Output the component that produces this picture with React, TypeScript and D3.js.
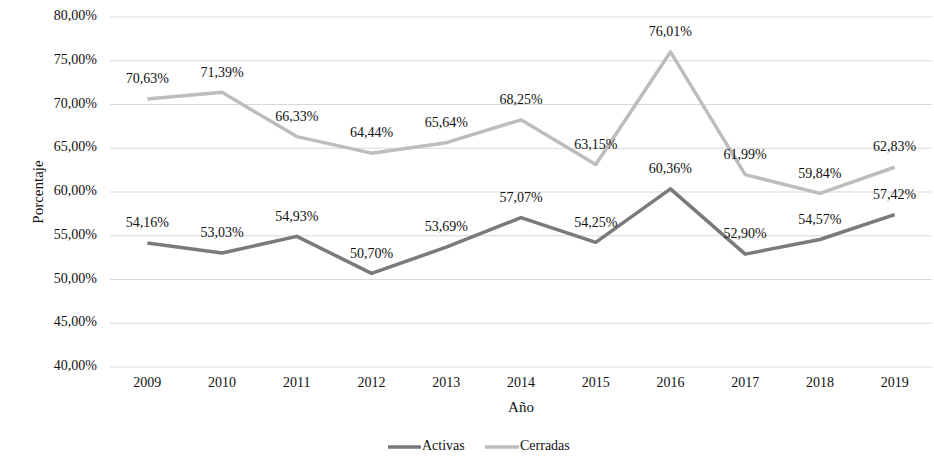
import React from 'react';
import * as d3 from 'd3';

const years = ['2009', '2010', '2011', '2012', '2013', '2014', '2015', '2016', '2017', '2018', '2019'];
const activas = [54.16, 53.03, 54.93, 50.70, 53.69, 57.07, 54.25, 60.36, 52.90, 54.57, 57.42];
const cerradas = [70.63, 71.39, 66.33, 64.44, 65.64, 68.25, 63.15, 76.01, 61.99, 59.84, 62.83];
const yTicks = [40, 45, 50, 55, 60, 65, 70, 75, 80];

const WIDTH = 934;
const HEIGHT = 460;
const FONT = "'Liberation Serif', 'Times New Roman', serif";

const series = [
  { name: 'Activas', values: activas, color: '#7a7a7a' },
  { name: 'Cerradas', values: cerradas, color: '#bdbdbd' },
];

const fmt = (v: number) => v.toFixed(2).replace('.', ',') + '%';

const App: React.FC = () => {
  const x = d3.scaleBand<string>().domain(years).range([110, 932]);
  const y = d3.scaleLinear().domain([40, 80]).range([367, 17]);
  const cx = (yr: string) => (x(yr) || 0) + x.bandwidth() / 2;

  const line = d3
    .line<number>()
    .x((_, i) => cx(years[i]))
    .y(d => y(d));

  return (
    <svg
      width={WIDTH}
      height={HEIGHT}
      style={{ position: 'absolute', left: 0, top: 0, background: '#fff', fontFamily: FONT }}
    >
      {/* grid + y ticks */}
      {yTicks.map(t => (
        <g key={t}>
          <line x1={110} x2={932} y1={y(t)} y2={y(t)} stroke="#d9d9d9" strokeWidth={1} />
          <text x={97} y={y(t)} textAnchor="end" dominantBaseline="middle" fontSize={14} fill="#111">
            {fmt(t)}
          </text>
        </g>
      ))}

      {/* x tick labels */}
      {years.map(yr => (
        <text key={yr} x={cx(yr)} y={384} textAnchor="middle" dominantBaseline="middle" fontSize={14} fill="#111">
          {yr}
        </text>
      ))}

      {/* axis titles */}
      <text
        transform={`translate(40, ${(y(40) + y(80)) / 2}) rotate(-90)`}
        textAnchor="middle"
        dominantBaseline="middle"
        fontSize={15}
        fill="#111"
      >
        Porcentaje
      </text>
      <text x={521} y={409} textAnchor="middle" dominantBaseline="middle" fontSize={15} fill="#111">
        Año
      </text>

      {/* lines */}
      {series.map(s => (
        <path
          key={s.name}
          d={line(s.values) || ''}
          fill="none"
          stroke={s.color}
          strokeWidth={3.5}
          strokeLinejoin="round"
        />
      ))}

      {/* data labels */}
      {series.map(s =>
        s.values.map((v, i) => (
          <text
            key={s.name + i}
            x={cx(years[i])}
            y={y(v) - 19}
            textAnchor="middle"
            dominantBaseline="middle"
            fontSize={14}
            fill="#111"
          >
            {fmt(v)}
          </text>
        ))
      )}

      {/* legend */}
      <g>
        <line x1={388} x2={421} y1={447} y2={447} stroke={series[0].color} strokeWidth={3.5} />
        <text x={422} y={447} dominantBaseline="middle" fontSize={14} fill="#111">
          Activas
        </text>
        <line x1={485} x2={519} y1={447} y2={447} stroke={series[1].color} strokeWidth={3.5} />
        <text x={520} y={447} dominantBaseline="middle" fontSize={14} fill="#111">
          Cerradas
        </text>
      </g>
    </svg>
  );
};

export default App;
